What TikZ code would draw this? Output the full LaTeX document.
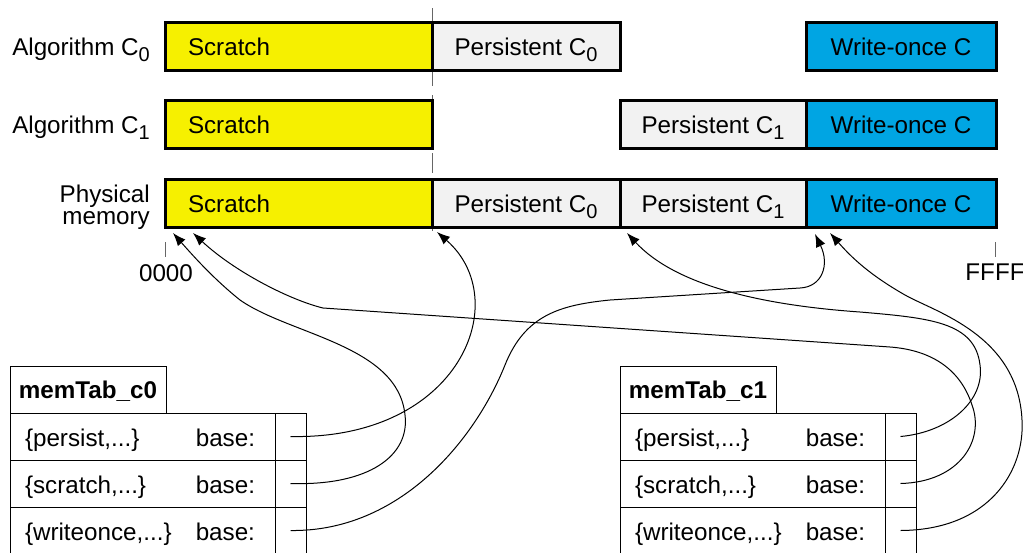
\documentclass[tikz,border=0pt]{standalone}
\usepackage{fontspec}
\setmainfont{Liberation Sans}
\usetikzlibrary{positioning,arrows.meta}
\definecolor{scratchyellow}{HTML}{F6F000}
\definecolor{persistgray}{HTML}{F2F2F2}
\definecolor{onceblue}{HTML}{00A5E3}
\newcommand{\lowidx}[1]{\raisebox{-6pt}[0pt][0pt]{\fontsize{20}{20}\selectfont #1}}
\tikzset{
  bar/.style={draw, line width=3pt, outer sep=0pt, inner sep=0pt, minimum height=48pt, text height=18pt, text depth=0pt},
  cell/.style={draw, line width=1pt, outer sep=0pt, inner ysep=0pt, inner xsep=15pt, minimum height=47pt, text height=20pt, text depth=0pt},
  ptrcell/.style={draw, line width=1pt, outer sep=0pt, inner sep=0pt, minimum width=31pt, minimum height=47pt},
  ptr/.style={line width=1pt, -{Latex[length=13pt,width=10pt]}},
}
\begin{document}
\begin{tikzpicture}[x=1pt, y=-1pt, font=\fontsize{24.2}{22}\selectfont]
    \useasboundingbox (0,0) rectangle (1023,552);
    \draw[black!60, line width=1pt, dash pattern=on 20pt off 9pt] (432,8) -- (432,231);
    \node[anchor=base east, inner sep=0pt] (algA) at (150,55) {Algorithm C\lowidx{0}};
    \node[anchor=base east, inner sep=0pt] (algB) at (150,133) {Algorithm C\lowidx{1}};
    \node[anchor=north east, inner sep=0pt, align=right] (phys) at (150,185) {Physical\\memory};
    \node[bar, fill=scratchyellow, text width=221pt, inner xsep=23pt, align=left] (scrA) at (298.5,46) {Scratch};
    \node[bar, fill=persistgray, minimum width=188pt, right=0pt of scrA] (pzA) {Persistent C\lowidx{0}};
    \node[bar, fill=onceblue, minimum width=190pt] (woA) at (901,46) {Write-once C};
    \node[bar, fill=scratchyellow, text width=221pt, inner xsep=23pt, align=left] (scrB) at (298.5,124) {Scratch};
    \node[bar, fill=persistgray, minimum width=186pt] (pzB) at (713,124) {Persistent C\lowidx{1}};
    \node[bar, fill=onceblue, minimum width=190pt, right=0pt of pzB] (woB) {Write-once C};
    \node[bar, fill=scratchyellow, text width=221pt, inner xsep=23pt, align=left] (scrC) at (298.5,203) {Scratch};
    \node[bar, fill=persistgray, minimum width=188pt, right=0pt of scrC] (pzC0) {Persistent C\lowidx{0}};
    \node[bar, fill=persistgray, minimum width=186pt, right=0pt of pzC0] (pzC1) {Persistent C\lowidx{1}};
    \node[bar, fill=onceblue, minimum width=190pt, right=0pt of pzC1] (woC) {Write-once C};
    \draw[black!60, line width=1pt] (165,242) -- (165,257);
    \node[anchor=base] (lo) at (166,281) {0000};
    \draw[black!60, line width=1pt] (995,242) -- (995,257);
    \node[anchor=base] (hi) at (995,280) {FFFF};
    \foreach \t/\x/\nm in {A/10/c0, B/620/c1} {
        \node[draw, line width=1pt, outer sep=0pt, minimum width=156pt, minimum height=47pt, anchor=north west,
              text height=17pt, text depth=0pt, font=\fontsize{24.2}{22}\selectfont\bfseries] (hd\t) at (\x,366) {memTab\_\nm};
        \node[cell, anchor=north west] (p\t) at (\x,413) {\makebox[235pt]{\{persist,...\}\hfill base:\hspace{5pt}}};
        \node[ptrcell, right=0pt of p\t] (p\t b) {};
        \node[cell, below=0pt of p\t] (s\t) {\makebox[235pt]{\{scratch,...\}\hfill base:\hspace{5pt}}};
        \node[ptrcell, right=0pt of s\t] (s\t b) {};
        \node[cell, below=0pt of s\t] (w\t) {\makebox[235pt]{\{writeonce,...\}\hfill base:\hspace{5pt}}};
        \node[ptrcell, right=0pt of w\t] (w\t b) {};
    }
    \coordinate (aScr1) at ([shift={(8,6)}]scrC.south west);
    \coordinate (aScr2) at ([shift={(28,6)}]scrC.south west);
    \coordinate (aPz0) at ([shift={(5,5)}]pzC0.south west);
    \coordinate (aPz1) at ([shift={(7,6)}]pzC1.south west);
    \coordinate (aWo1) at ([shift={(9,7)}]woC.south west);
    \coordinate (aWo2) at ([shift={(24,6)}]woC.south west);
    % memTab_c0
    \draw[ptr] (pAb.center) .. controls (460,440) and (515,300) .. (aPz0);
    \draw[ptr] (sAb.center) .. controls (370,486) and (410,455) .. (405,415) .. controls (398,345) and (290,335) .. (240,300) .. controls (215,280) and (195,258) .. (aScr1);
    \draw[ptr] (wAb.center) .. controls (400,532) and (475,440) .. (505,365) .. controls (525,315) and (560,305) .. (610,300) -- (800,288) .. controls (822,287) and (830,265) .. (aWo1);
    % memTab_c1
    \draw[ptr] (pBb.center) .. controls (950,432) and (985,400) .. (980,365) .. controls (975,322) and (930,318) .. (860,312) .. controls (760,305) and (675,285) .. (aPz1);
    \draw[ptr] (sBb.center) .. controls (960,482) and (985,440) .. (972,405) .. controls (960,368) and (930,350) .. (890,347) -- (323,308) .. controls (290,300) and (235,272) .. (aScr2);
    \draw[ptr] (wBb.center) .. controls (990,530) and (1025,470) .. (1022,420) .. controls (1018,335) and (935,312) .. (905,295) .. controls (870,275) and (852,258) .. (aWo2);
\end{tikzpicture}
\end{document}
